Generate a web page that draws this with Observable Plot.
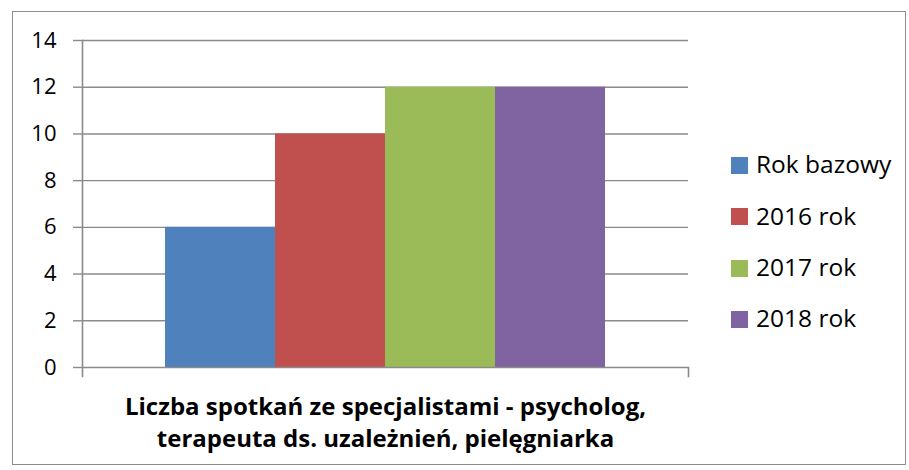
<!DOCTYPE html>
<html>
<head>
<meta charset="utf-8">
<script src="https://cdn.jsdelivr.net/npm/d3@7"></script>
<script src="https://cdn.jsdelivr.net/npm/@observablehq/plot@0.6"></script>
<style>
  html, body { margin: 0; padding: 0; background: #fff; }
  #wrap { position: relative; width: 909px; height: 470px; font-family: "Open Sans", Lato, sans-serif; }
  #border { position: absolute; left: 12px; top: 11px; width: 894px; height: 454px; border: 1.5px solid #8c8c8c; box-sizing: border-box; pointer-events: none; }
  #legend { position: absolute; left: 731px; top: 140px; }
  .item { display: flex; align-items: center; height: 51.3px; }
  .sw { width: 17px; height: 17px; margin-right: 8px; }
  .lab { font-size: 24.5px; color: #000; line-height: 1; position: relative; top: -1px; }
</style>
</head>
<body>
<div id="wrap"><div id="border"></div><div id="legend"></div></div>
<script>
const category = "Liczba spotkań ze specjalistami - psycholog,\nterapeuta ds. uzależnień, pielęgniarka";
const series = ["Rok bazowy", "2016 rok", "2017 rok", "2018 rok"];
const values = [6, 10, 12, 12];
const colors = ["#4F81BD", "#C0504D", "#9BBB59", "#8064A2"];
const yTicks = [0, 2, 4, 6, 8, 10, 12, 14];

const data = series.map((s, i) => ({series: s, value: values[i]}));

const chart = Plot.plot({
  width: 909,
  height: 470,
  marginLeft: 82,
  marginRight: 221,
  marginTop: 40,
  marginBottom: 103,
  style: {fontFamily: "'Open Sans', Lato, sans-serif", background: "transparent", color: "#000"},
  x: {domain: series, paddingInner: 0, paddingOuter: 0.748, axis: null},
  y: {domain: [0, 14]},
  color: {domain: series, range: colors},
  marks: [
    Plot.ruleY(yTicks.filter(d => d > 0), {stroke: "#8a8a8a", strokeWidth: 1.4}),
    Plot.barY(data, {x: "series", y: "value", fill: "series"}),
    Plot.ruleY([0], {stroke: "#8a8a8a", strokeWidth: 1.6}),
    Plot.frame({anchor: "left", stroke: "#8a8a8a", strokeWidth: 1.6, insetBottom: -9}),
    Plot.frame({anchor: "right", stroke: "#8a8a8a", strokeWidth: 1.6, insetBottom: -9, insetTop: 327}),
    Plot.axisY({ticks: yTicks, tickSize: 9, tickPadding: 17, fontSize: 22, stroke: "#8a8a8a", strokeWidth: 1.4, label: null, tickFormat: d => String(d), color: "#000"}),
    Plot.text([category], {
      text: d => d,
      frameAnchor: "bottom",
      lineAnchor: "top",
      dy: 25,
      fontSize: 24,
      fontWeight: "bold",
      lineHeight: 1.333,
      fill: "#000"
    })
  ]
});
document.getElementById("wrap").prepend(chart);

const legend = document.getElementById("legend");
series.forEach((s, i) => {
  const row = document.createElement("div");
  row.className = "item";
  const sw = document.createElement("div");
  sw.className = "sw";
  sw.style.background = colors[i];
  const lab = document.createElement("span");
  lab.className = "lab";
  lab.textContent = s;
  row.append(sw, lab);
  legend.append(row);
});
</script>
</body>
</html>
